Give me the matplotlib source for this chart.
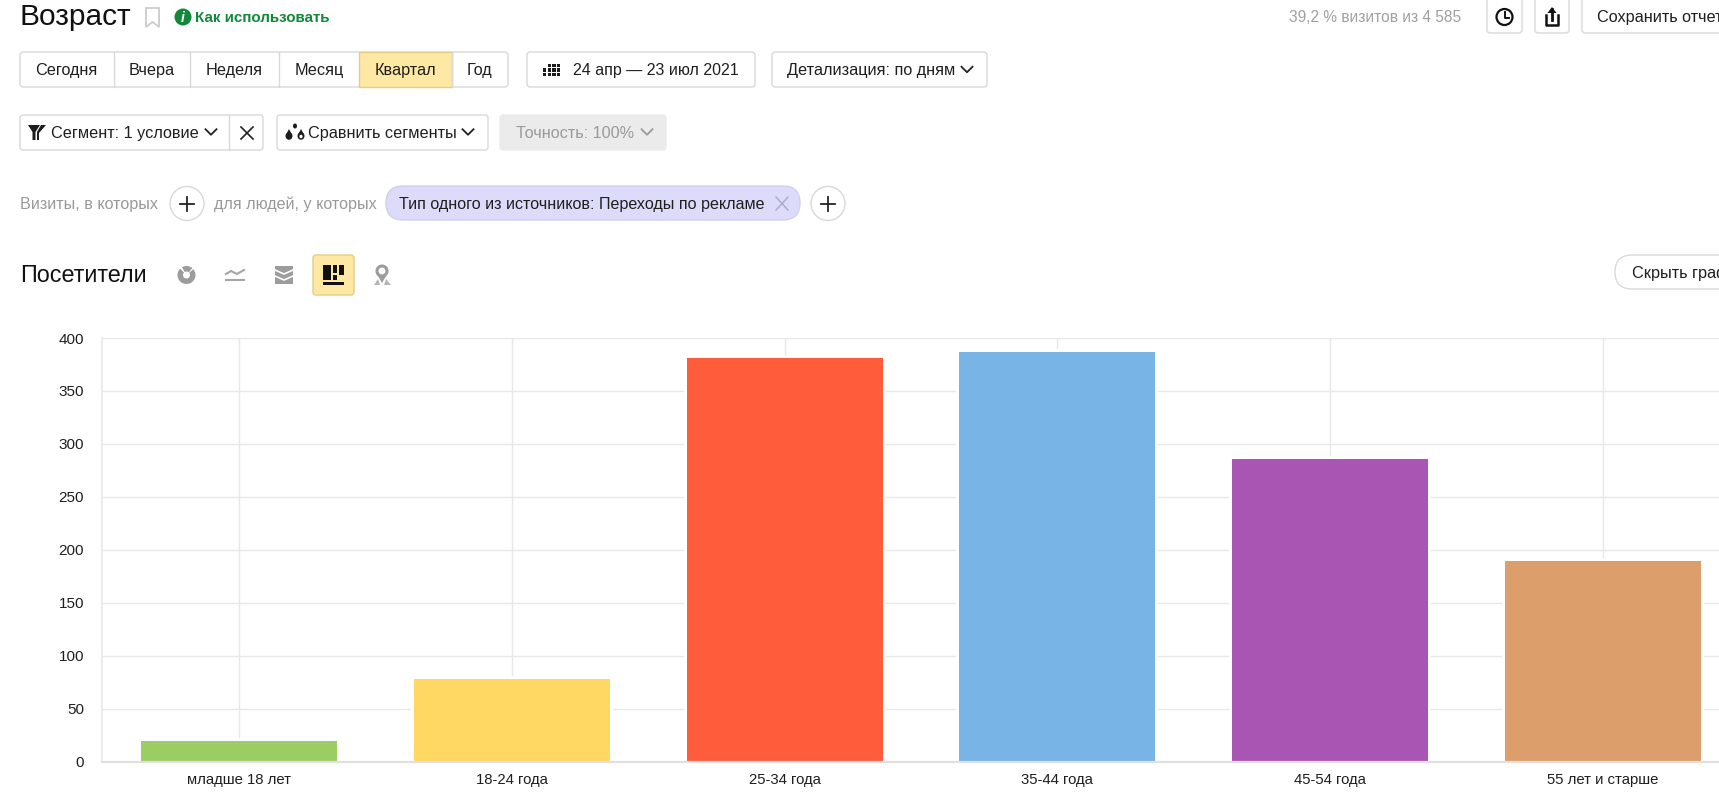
import matplotlib
matplotlib.use("Agg")
import matplotlib.pyplot as plt
from matplotlib.patches import FancyBboxPatch, Rectangle, Circle, Wedge, Polygon, Ellipse

plt.rcParams['font.family'] = ['Liberation Sans', 'DejaVu Sans']

# --- data ---
categories = ["младше 18 лет", "18-24 года", "25-34 года", "35-44 года", "45-54 года", "55 лет и старше"]
visitors = [19, 78, 381, 387, 286, 189]
bar_colors = ["#9ACD63", "#FFD763", "#FF5C3C", "#78B4E6", "#A955B4", "#DC9F6C"]
y_ticks = [0, 50, 100, 150, 200, 250, 300, 350, 400]

period_labels = ["Сегодня", "Вчера", "Неделя", "Месяц", "Квартал", "Год"]
period_edges = [20, 113.5, 190, 279, 359, 451.5, 508]
ACTIVE_PERIOD = "Квартал"

W, H = 1719, 809
GRID = "#e8e8e8"
BORDER = "#d9d9d9"
ACTIVE = "#FFE8A3"
TEXT = "#1f1f1f"
MUTED = "#999999"
UI_SIZE = 11.7

fig = plt.figure(figsize=(W / 100, H / 100), dpi=100, facecolor="white")

# --- bar chart ---
plot_left, plot_top, plot_bottom = 102, 338, 761.5
ax = fig.add_axes([plot_left / W, 1 - plot_bottom / H, (W - plot_left) / W, (plot_bottom - plot_top) / H])
x_pos = list(range(len(categories)))
# white halo under the bars keeps the grid lines from touching them
ax.bar(x_pos, visitors, width=0.718, color="white", edgecolor="white", linewidth=4, zorder=2)
ax.bar(x_pos, visitors, width=0.718, color=bar_colors, linewidth=0, zorder=3)
ax.set_xlim(-0.502, 5.425)
ax.set_ylim(0, 400)
ax.set_yticks(y_ticks)
ax.set_xticks(x_pos)
ax.set_xticklabels(categories)
ax.tick_params(axis="both", length=0, labelcolor=TEXT)
ax.tick_params(axis="y", pad=13, labelsize=11)
ax.tick_params(axis="x", pad=8.5, labelsize=10.7)
ax.grid(True, color=GRID, linewidth=1, zorder=0)
ax.set_axisbelow(True)
for side in ["top", "right"]:
    ax.spines[side].set_visible(False)
ax.spines["left"].set_color(GRID)
ax.spines["left"].set_linewidth(1.2)
ax.spines["bottom"].set_color("#e0e0e0")
ax.spines["bottom"].set_linewidth(1.6)
ax.spines["bottom"].set_zorder(4)

# --- interface overlay in pixel coordinates ---
ui = fig.add_axes([0, 0, 1, 1], facecolor="none")
ui.set_xlim(0, W)
ui.set_ylim(H, 0)
ui.axis("off")


def button(x0, y0, x1, y1, face="white", edge=BORDER, radius=3):
    ui.add_patch(FancyBboxPatch((x0, y0), x1 - x0, y1 - y0, boxstyle=f"round,pad=0,rounding_size={radius}",
                                facecolor=face, edgecolor=edge, linewidth=1))


def label(x, y, s, size=UI_SIZE, color=TEXT, ha="left", **kw):
    ui.text(x, y + 1, s, fontsize=size, color=color, ha=ha, va="center", **kw)


def chevron(x, y, color="#222222", w=5.5, h=5.5):
    ui.plot([x - w, x, x + w], [y - h / 2, y + h / 2, y - h / 2], color=color, lw=1.3)


def plus_button(x, y):
    ui.add_patch(Circle((x, y), 17, facecolor="white", edgecolor=BORDER, lw=1))
    ui.plot([x - 7, x + 7], [y, y], color="#222222", lw=1.3)
    ui.plot([x, x], [y - 7, y + 7], color="#222222", lw=1.3)


def drop(x, y, filled=True):
    ui.add_patch(Ellipse((x, y + 2), 7, 7.5, facecolor="#1c1c1c", edgecolor="none"))
    ui.add_patch(Polygon([(x - 3.2, y + 1), (x, y - 5), (x + 3.2, y + 1)], closed=True, facecolor="#1c1c1c", edgecolor="none"))
    if not filled:
        ui.add_patch(Ellipse((x, y + 2.5), 3.2, 3.6, facecolor="white", edgecolor="none"))


# header
label(20, 16, "Возраст", size=21.5, color="#111111")
ui.add_patch(Polygon([(146, 8), (159, 8), (159, 27), (152.5, 22), (146, 27)], closed=True,
                     facecolor="none", edgecolor="#cccccc", lw=1.3))
ui.add_patch(Circle((183, 17), 8.5, facecolor="#12893A", edgecolor="none"))
ui.text(183, 17.5, "i", fontsize=10, color="white", ha="center", va="center", fontweight="bold", style="italic")
label(195, 17, "Как использовать", size=10.9, color="#12893A", fontweight="bold")
label(1289, 16, "39,2 % визитов из 4 585", size=11.2, color="#a0a0a0")

button(1487, -6, 1522, 33)
ui.add_patch(Circle((1504.5, 17), 8, facecolor="none", edgecolor="#111111", lw=1.6))
ui.plot([1504.5, 1504.5, 1509], [11.5, 17.5, 17.5], color="#111111", lw=1.4)
button(1535, -6, 1569, 33)
ui.plot([1546, 1546, 1558, 1558], [15, 25, 25, 15], color="#111111", lw=1.8)
ui.plot([1552, 1552], [20, 9], color="#111111", lw=2)
ui.add_patch(Polygon([(1547.5, 13), (1552, 7), (1556.5, 13)], closed=True, facecolor="#111111", edgecolor="none"))
button(1582, -6, 1760, 33)
label(1597, 16, "Сохранить отчет")

# period selector
button(period_edges[0], 52, period_edges[-1], 87)
for i, name in enumerate(period_labels):
    left, right = period_edges[i], period_edges[i + 1]
    if name == ACTIVE_PERIOD:
        ui.add_patch(Rectangle((left, 52), right - left, 35, facecolor=ACTIVE, edgecolor="#e3cd87", lw=1))
    elif i > 0:
        ui.plot([left, left], [52, 87], color=BORDER, lw=1)
    label((left + right) / 2, 69.5, name, ha="center")

# date range and detail level
button(527, 52, 755, 87)
for col in range(4):
    for row in range(3):
        if not (col == 0 and row == 0):
            ui.add_patch(Rectangle((543 + col * 4.6, 63.5 + row * 4.6), 3.4, 3.4, facecolor="#1c1c1c", edgecolor="none"))
label(573, 69.5, "24 апр — 23 июл 2021", size=11.5)
button(772, 52, 987, 87)
label(787, 69.5, "Детализация: по дням")
chevron(967, 69.5)

# segment row
button(20, 115, 263, 150)
ui.plot([229, 229], [115, 150], color=BORDER, lw=1)
ui.add_patch(Polygon([(28, 125), (40, 125), (35.5, 132), (35.5, 140), (32.5, 140), (32.5, 132)], closed=True,
                     facecolor="#1c1c1c", edgecolor="none"))
ui.add_patch(Polygon([(41, 125), (46, 125), (39, 133), (39, 140), (37, 140), (37, 132)], closed=True,
                     facecolor="#1c1c1c", edgecolor="none"))
label(51, 132, "Сегмент: 1 условие")
chevron(211, 132)
ui.plot([241, 253], [127, 139], color="#222222", lw=1.2)
ui.plot([241, 253], [139, 127], color="#222222", lw=1.2)

button(277, 115, 488, 150)
drop(289, 134)
ui.add_patch(Ellipse((295, 126), 4, 5, facecolor="#1c1c1c", edgecolor="none"))
drop(301, 134, filled=False)
label(308, 132, "Сравнить сегменты")
chevron(468, 132)

button(500, 115, 666, 150, face="#ebebeb", edge="#ebebeb")
label(516, 132, "Точность: 100%", color="#9a9a9a")
chevron(647, 132, color="#9a9a9a")

# filter row
label(20, 203, "Визиты, в которых", size=11.6, color=MUTED)
plus_button(187, 203.5)
label(214, 203, "для людей, у которых", size=11.6, color=MUTED)
button(386, 186, 800, 220, face="#DCDCFA", edge="#cfcff3", radius=17)
label(399, 203.5, "Тип одного из источников: Переходы по рекламе", size=11.6)
ui.plot([776, 788], [197, 210], color="#a9a9c8", lw=1)
ui.plot([776, 788], [210, 197], color="#a9a9c8", lw=1)
plus_button(828, 203.5)

# chart heading and view switches
label(20, 274, "Посетители", size=16.8, color="#111111")
ui.add_patch(Wedge((186.5, 275), 9, -40, 225, width=5.5, facecolor="#9c9c9c", edgecolor="none"))
ui.add_patch(Wedge((186.5, 275), 9, 240, 310, width=5.5, facecolor="#9c9c9c", edgecolor="none"))
ui.plot([226, 231, 237, 244], [274, 271, 274, 270], color="#a5a5a5", lw=1.5)
ui.plot([226, 244], [280, 280], color="#a5a5a5", lw=1.5)
ui.add_patch(Rectangle((275, 266), 18, 18, facecolor="#9c9c9c", edgecolor="none"))
for dy in [270, 276]:
    ui.plot([275, 284, 293], [dy, dy + 4, dy], color="white", lw=1.2)
button(313, 255, 354, 295, face=ACTIVE, edge="#e3cd87")
ui.add_patch(Rectangle((323, 265), 8, 15, facecolor="#111111", edgecolor="none"))
ui.add_patch(Rectangle((333, 265), 4, 8, facecolor="#111111", edgecolor="none"))
ui.add_patch(Rectangle((333, 275), 4, 5, facecolor="#111111", edgecolor="none"))
ui.add_patch(Rectangle((338.5, 265), 5.5, 10, facecolor="#111111", edgecolor="none"))
ui.add_patch(Rectangle((323, 281.5), 21, 3, facecolor="#111111", edgecolor="none"))
ui.add_patch(Circle((382, 271), 5, facecolor="none", edgecolor="#9c9c9c", lw=2.2))
ui.add_patch(Polygon([(378, 276), (386, 276), (382, 283)], closed=True, facecolor="#9c9c9c", edgecolor="none"))
ui.add_patch(Polygon([(374, 285), (378, 279), (380, 285)], closed=True, facecolor="#b5b5b5", edgecolor="none"))
ui.add_patch(Polygon([(384, 285), (386, 279), (391, 285)], closed=True, facecolor="#b5b5b5", edgecolor="none"))

button(1615, 255, 1790, 289, radius=17)
label(1632, 272, "Скрыть график")

fig.savefig("out.png", dpi=100, facecolor="white")
